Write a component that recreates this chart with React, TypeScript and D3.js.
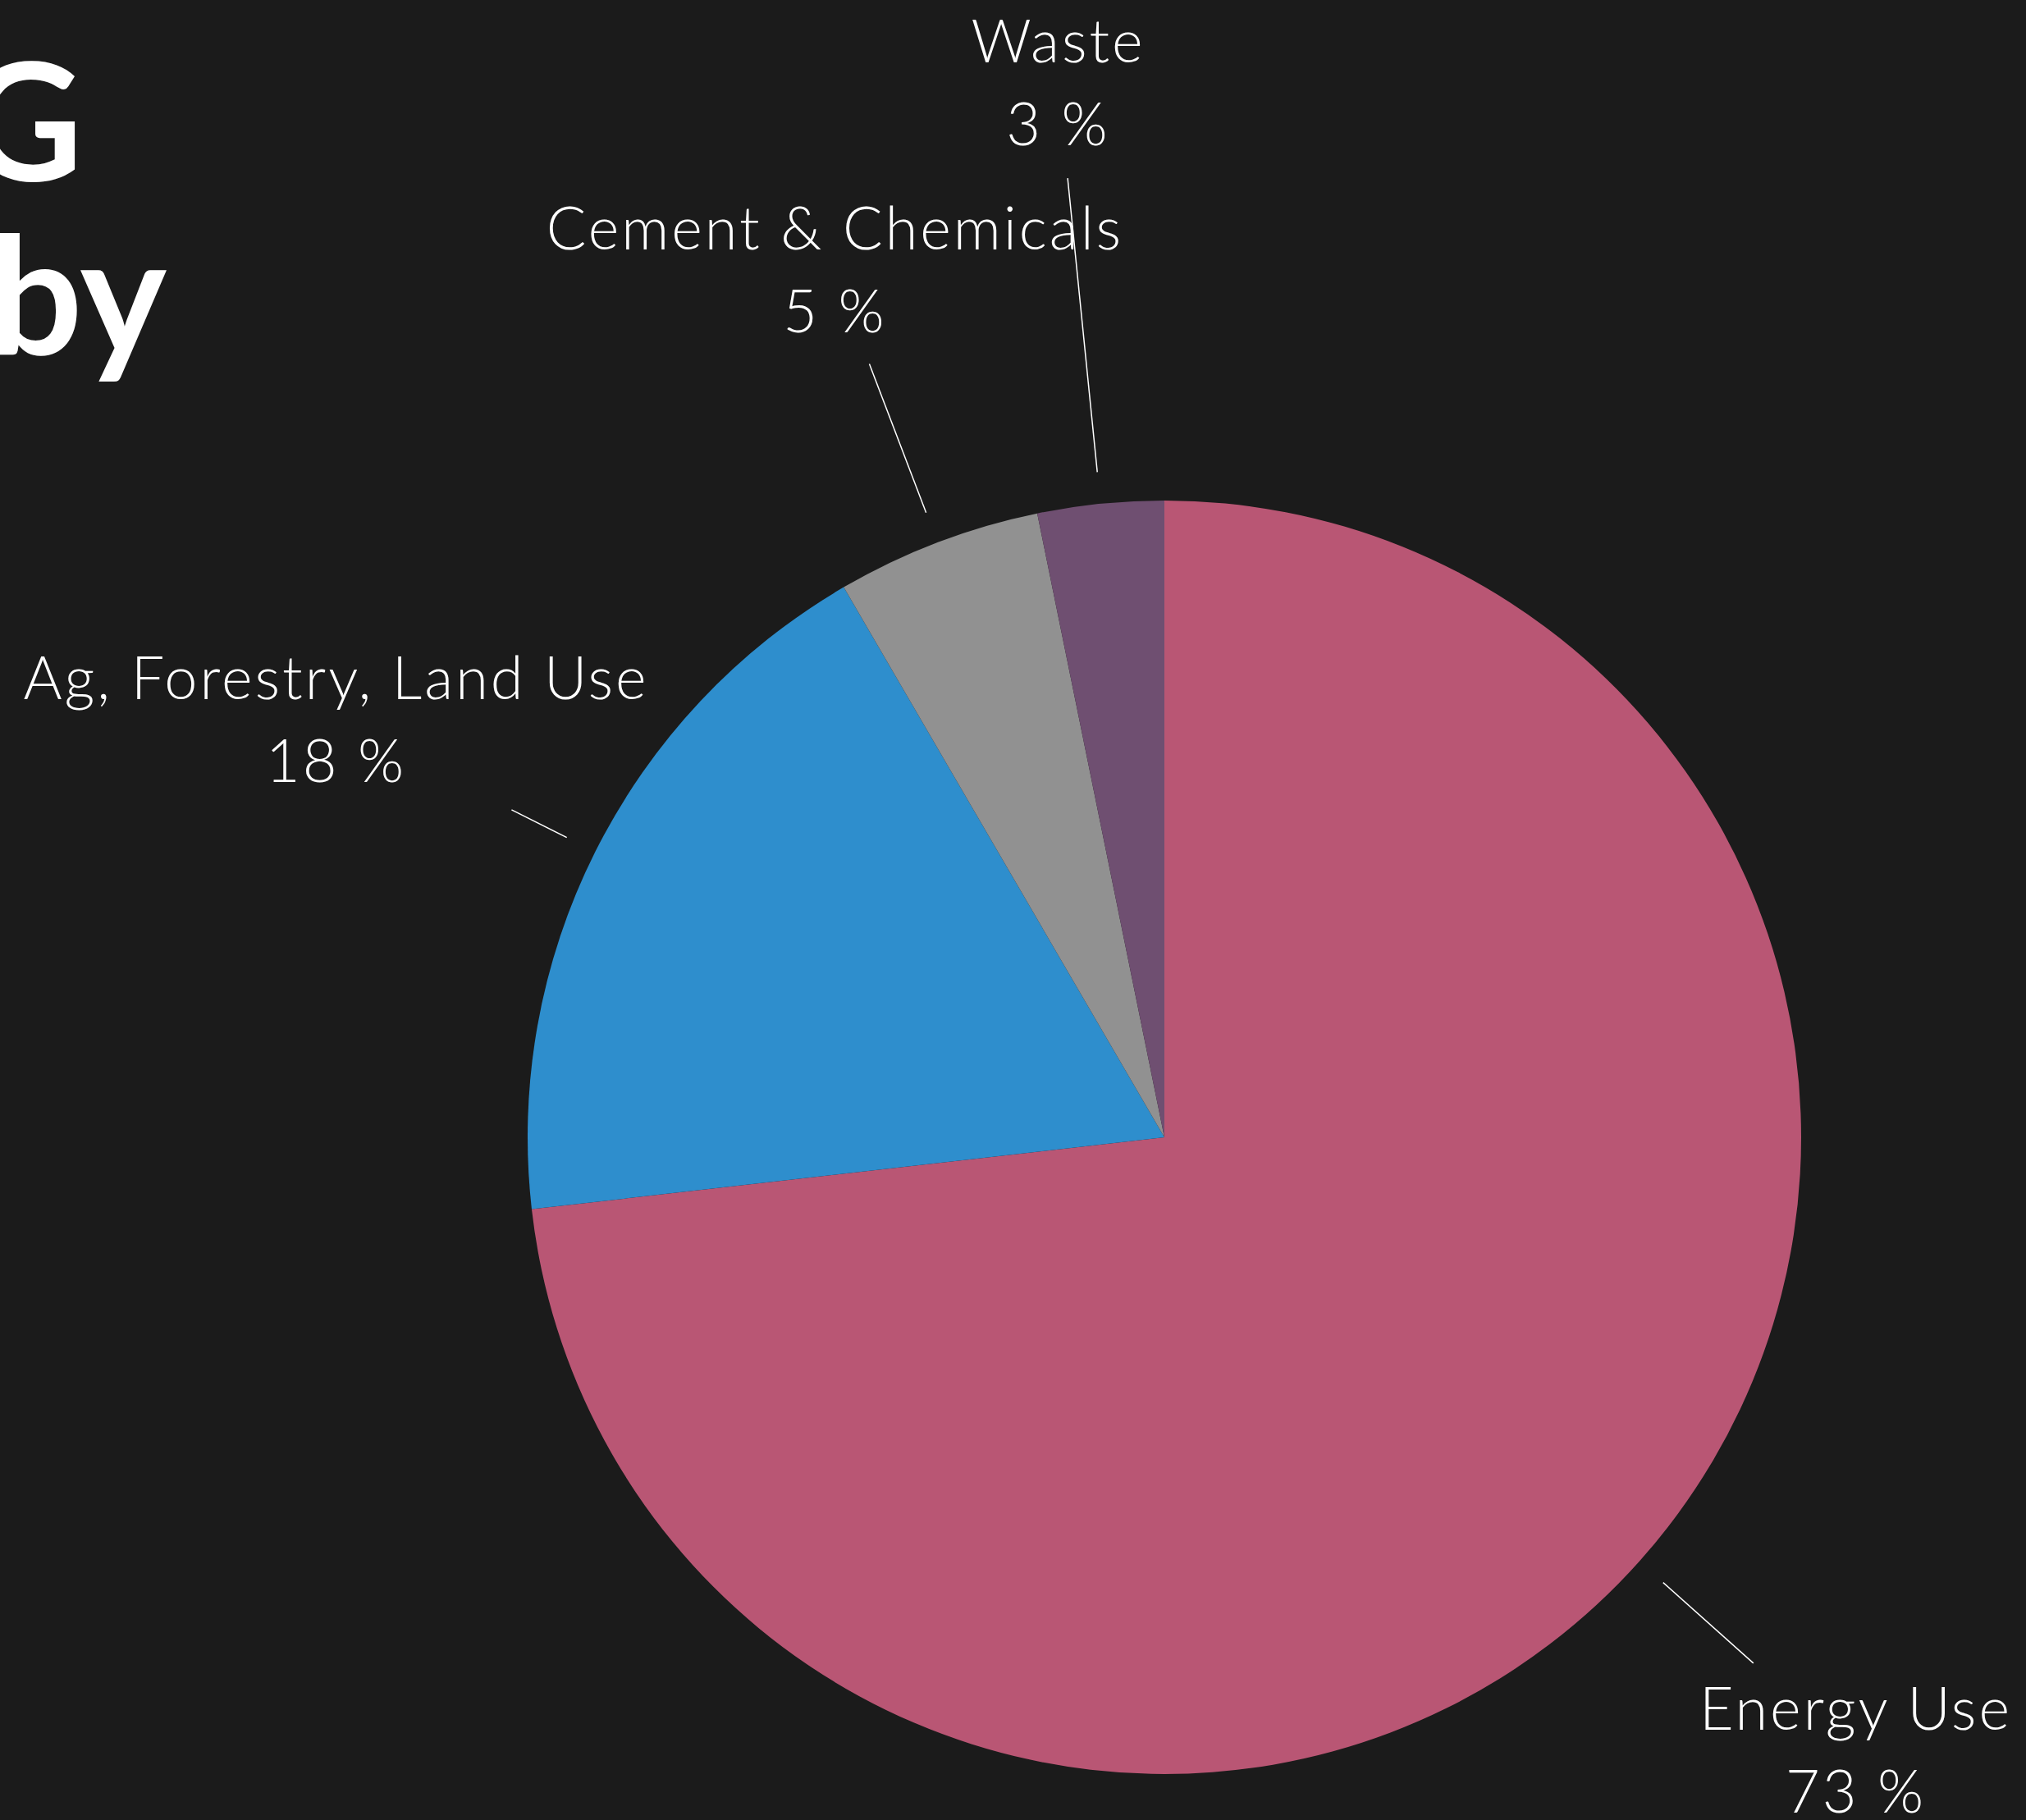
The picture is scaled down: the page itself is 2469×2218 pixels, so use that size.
import React from "react";
import * as d3 from "d3";

// Share of global greenhouse-gas emissions by sector (%)
const sectors = ["Energy Use", "Ag, Forestry, Land Use", "Cement & Chemicals", "Waste"];
const shares = [73.2, 18.4, 5.2, 3.2];
const sliceColors = ["#b95674", "#2e8ecd", "#919191", "#6f4f71"];

// Title lines (the block is set partly off the left edge)
const titleLines = ["Global GHG", "Emissions by"];

// Layout
const WIDTH = 2469;
const HEIGHT = 2218;
const CX = 1419;
const CY = 1386;
const RADIUS = 776;
const LEADER_START = 1.05; // leader lines start just outside the pie
const leaderEnd = [1.24, 1.147, 1.3, 1.514]; // in radii, per sector
const labelAnchor: [number, number][] = [
  [2260, 2108],
  [408, 852],
  [1016, 304],
  [1288, 76],
];
const LINE_GAP = 101;
const LABEL_FONT = "Lato, 'Open Sans', sans-serif";

export default function App() {
  const pie = d3
    .pie<number>()
    .sort(null)
    .value((d) => d)
    .startAngle(0)
    .endAngle(2 * Math.PI);
  const arcs = pie(shares);
  const arcGen = d3.arc<d3.PieArcDatum<number>>().innerRadius(0).outerRadius(RADIUS);
  const fmt = (v: number) => `${d3.format(".0f")(v)} %`;

  return (
    <div style={{ position: "absolute", left: 0, top: 0 }}>
      <svg width={WIDTH} height={HEIGHT} style={{ display: "block", background: "#1b1b1b" }}>
        <rect width={WIDTH} height={HEIGHT} fill="#1b1b1b" />
        <g
          fill="#ffffff"
          fontFamily={LABEL_FONT}
          fontWeight={700}
          fontSize={200}
          textAnchor="end"
        >
          <text x={101} y={220}>{titleLines[0]}</text>
          <text x={203} y={432}>{titleLines[1]}</text>
        </g>
        <g transform={`translate(${CX},${CY})`}>
          {arcs.map((a, i) => (
            <path key={sectors[i]} d={arcGen(a) || ""} fill={sliceColors[i]} />
          ))}
          {arcs.map((a, i) => {
            const mid = (a.startAngle + a.endAngle) / 2;
            const sx = Math.sin(mid);
            const sy = -Math.cos(mid);
            const r0 = RADIUS * LEADER_START;
            const r1 = RADIUS * leaderEnd[i];
            return (
              <line
                key={"l" + i}
                x1={sx * r0}
                y1={sy * r0}
                x2={sx * r1}
                y2={sy * r1}
                stroke="#ffffff"
                strokeWidth={1.5}
              />
            );
          })}
        </g>
        <g
          fill="#ffffff"
          fontFamily={LABEL_FONT}
          fontWeight={300}
          fontSize={72}
          letterSpacing={3}
          textAnchor="middle"
        >
          {sectors.map((s, i) => (
            <g key={"t" + i}>
              <text x={labelAnchor[i][0] + 1.5} y={labelAnchor[i][1]}>{s}</text>
              <text x={labelAnchor[i][0] + 1.5} y={labelAnchor[i][1] + LINE_GAP}>{fmt(shares[i])}</text>
            </g>
          ))}
        </g>
      </svg>
    </div>
  );
}
